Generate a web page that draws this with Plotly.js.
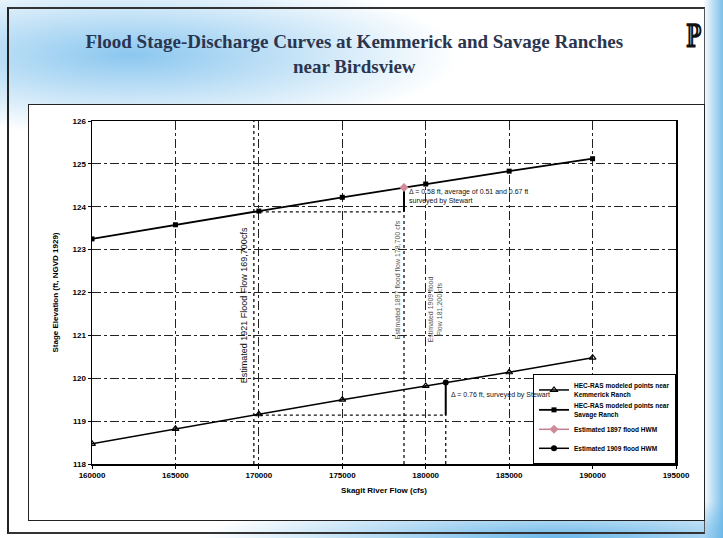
<!DOCTYPE html>
<html>
<head>
<meta charset="utf-8">
<script src="https://cdn.plot.ly/plotly-3.0.1.min.js"></script>
<style>
  html, body { margin:0; padding:0; }
  body { width:723px; height:538px; position:relative; overflow:hidden; background:#ffffff; }
  #slide { position:absolute; left:0; top:0; width:723px; height:538px;
    background:
      radial-gradient(ellipse 330px 80px at 130px 55px, rgba(110,185,235,0.8), rgba(160,210,240,0) 100%),
      radial-gradient(ellipse 360px 40px at 560px 538px, rgba(90,175,230,0.9), rgba(120,190,235,0) 100%),
      linear-gradient(to left, rgba(100,180,230,0.85) 0px, rgba(120,190,235,0) 20px);
  }
  #frame { position:absolute; left:7px; top:7px; width:695px; height:523px; border-left:2px solid #222; border-top:2px solid #333; border-bottom:2px solid #333; border-right:1px solid #555; }
  #box { position:absolute; left:28px; top:104px; width:675px; height:415px; background:#fff; border:1px solid #222; }
  #logo { position:absolute; left:686px; top:20px; font-family:"DejaVu Serif"; font-weight:bold; font-size:32px; line-height:1; color:#111; transform:scaleX(0.65); transform-origin:left top; }
  #chart { position:absolute; left:0; top:0; width:723px; height:538px; }
</style>
</head>
<body>
<div id="slide"></div>
<div id="frame"></div>
<div id="box"></div>
<div id="logo">ℙ</div>
<div id="chart"></div>
<script>
// ---- data ----
const flows = [160000, 165000, 170000, 175000, 180000, 185000, 190000];
const stageSavage = [123.25, 123.58, 123.90, 124.22, 124.53, 124.83, 125.12];
const stageKemmerick = [118.47, 118.82, 119.16, 119.50, 119.82, 120.14, 120.48];

const flow1921 = 169700;
const stage1921Savage = 123.88;
const stage1921Kemmerick = 119.14;

const hwm1897Flow = [178700];
const hwm1897Stage = [124.45];
const hwm1909Flow = [181200];
const hwm1909Stage = [119.90];

const xTicks = [160000, 165000, 170000, 175000, 180000, 185000, 190000, 195000];
const yTicks = [118, 119, 120, 121, 122, 123, 124, 125, 126];

const F = "Liberation Sans, Arial, sans-serif";

const traces = [
  // helper reference lines (built from the values above)
  {x:[flow1921, flow1921], y:[yTicks[0], yTicks[yTicks.length-1]], mode:'lines',
   line:{color:'#111', width:1.3, dash:'dot'}, showlegend:false, hoverinfo:'skip'},
  {x:[flow1921, hwm1897Flow[0]], y:[stage1921Savage, stage1921Savage], mode:'lines',
   line:{color:'#111', width:1.3, dash:'dot'}, showlegend:false, hoverinfo:'skip'},
  {x:[flow1921, hwm1909Flow[0]], y:[stage1921Kemmerick, stage1921Kemmerick], mode:'lines',
   line:{color:'#111', width:1.3, dash:'dot'}, showlegend:false, hoverinfo:'skip'},
  {x:[hwm1897Flow[0], hwm1897Flow[0]], y:[yTicks[0], stage1921Savage], mode:'lines',
   line:{color:'#111', width:1.3, dash:'dot'}, showlegend:false, hoverinfo:'skip'},
  {x:[hwm1909Flow[0], hwm1909Flow[0]], y:[yTicks[0], stage1921Kemmerick], mode:'lines',
   line:{color:'#111', width:1.3, dash:'dot'}, showlegend:false, hoverinfo:'skip'},
  {x:[hwm1897Flow[0], hwm1897Flow[0]], y:[stage1921Savage, hwm1897Stage[0]], mode:'lines',
   line:{color:'#000', width:2}, showlegend:false, hoverinfo:'skip'},
  {x:[hwm1909Flow[0], hwm1909Flow[0]], y:[stage1921Kemmerick, hwm1909Stage[0]], mode:'lines',
   line:{color:'#000', width:2}, showlegend:false, hoverinfo:'skip'},
  // main series
  {x:flows, y:stageKemmerick, mode:'lines+markers', name:'HEC-RAS modeled points near<br>Kemmerick Ranch',
   line:{color:'#000', width:1.5}, marker:{symbol:'triangle-up-open', size:6, color:'#000', line:{width:1.2}}},
  {x:flows, y:stageSavage, mode:'lines+markers', name:'HEC-RAS modeled points near<br>Savage Ranch',
   line:{color:'#000', width:1.8}, marker:{symbol:'square', size:5, color:'#000'}},
  {x:hwm1897Flow, y:hwm1897Stage, mode:'lines+markers', name:'Estimated 1897 flood HWM',
   line:{color:'#c08090', width:1.5}, marker:{symbol:'diamond', size:7, color:'#d08a9a'}},
  {x:hwm1909Flow, y:hwm1909Stage, mode:'lines+markers', name:'Estimated 1909 flood HWM',
   line:{color:'#000', width:1.5}, marker:{symbol:'circle', size:6, color:'#000'}}
];

const layout = {
  width:723, height:538,
  margin:{l:92, r:47, t:121, b:74},
  paper_bgcolor:'rgba(0,0,0,0)',
  plot_bgcolor:'#ffffff',
  font:{family:F, size:8, color:'#000'},
  title:{text:'Flood Stage-Discharge Curves at Kemmerick and Savage Ranches<br>near Birdsview',
         font:{family:'Liberation Serif, Times New Roman, serif', size:19, color:'#2a3550', weight:'bold'},
         x:0.49, xanchor:'center', y:0.91, yanchor:'top'},
  xaxis:{range:[160000, 195000], tickvals:xTicks, ticktext:xTicks.map(String),
         showgrid:true, gridcolor:'#222', gridwidth:1, griddash:'dashdot',
         showline:true, linecolor:'#000', linewidth:1.5, mirror:true, zeroline:false,
         ticks:'outside', ticklen:3, tickcolor:'#000', tickfont:{family:F, size:8, weight:'bold'},
         title:{text:'Skagit River Flow (cfs)', font:{family:F, size:8, weight:'bold'}, standoff:8}},
  yaxis:{range:[118, 126], tickvals:yTicks, ticktext:yTicks.map(String),
         showgrid:true, gridcolor:'#222', gridwidth:1, griddash:'dashdot',
         showline:true, linecolor:'#000', linewidth:1.5, mirror:true, zeroline:false,
         ticks:'outside', ticklen:3, tickcolor:'#000', tickfont:{family:F, size:8, weight:'bold'},
         title:{text:'Stage Elevation (ft, NGVD 1929)', font:{family:F, size:8, weight:'bold'}, standoff:12}},
  legend:{x:1, xanchor:'right', y:0, yanchor:'bottom', bgcolor:'#ffffff', bordercolor:'#000', borderwidth:1,
          font:{family:F, size:6.5, weight:'bold'}, tracegroupgap:0, itemwidth:30},
  annotations:[
    {x:flow1921, y:121.7, xref:'x', yref:'y', text:'Estimated 1921 Flood Flow 169,700cfs', textangle:-90,
     showarrow:false, xanchor:'right', xshift:-2, font:{family:F, size:9, color:'#111'}},
    {x:hwm1897Flow[0], y:122.3, xref:'x', yref:'y', text:'Estimated 1897 flood flow 178,700 cfs', textangle:-90,
     showarrow:false, xanchor:'right', xshift:-1, font:{family:F, size:7, color:'#555'}},
    {x:hwm1909Flow[0], y:121.6, xref:'x', yref:'y', text:'Estimated 1909 flood<br>Flow 181,200 cfs', textangle:-90,
     showarrow:false, xanchor:'right', xshift:-1, font:{family:F, size:7, color:'#555'}},
    {x:hwm1897Flow[0], y:124.25, xref:'x', yref:'y', text:'Δ = 0.58 ft, average of 0.51 and 0.67 ft<br>surveyed by Stewart',
     showarrow:false, xanchor:'left', yanchor:'middle', xshift:3, align:'left', font:{family:F, size:7, color:'#111'}},
    {x:hwm1909Flow[0], y:119.62, xref:'x', yref:'y', text:'Δ = 0.76 ft, surveyed by Stewart',
     showarrow:false, xanchor:'left', yanchor:'middle', xshift:3, align:'left', font:{family:F, size:7, color:'#111'}}
  ]
};

Plotly.newPlot('chart', traces, layout, {displayModeBar:false, staticPlot:true});
</script>
</body>
</html>
